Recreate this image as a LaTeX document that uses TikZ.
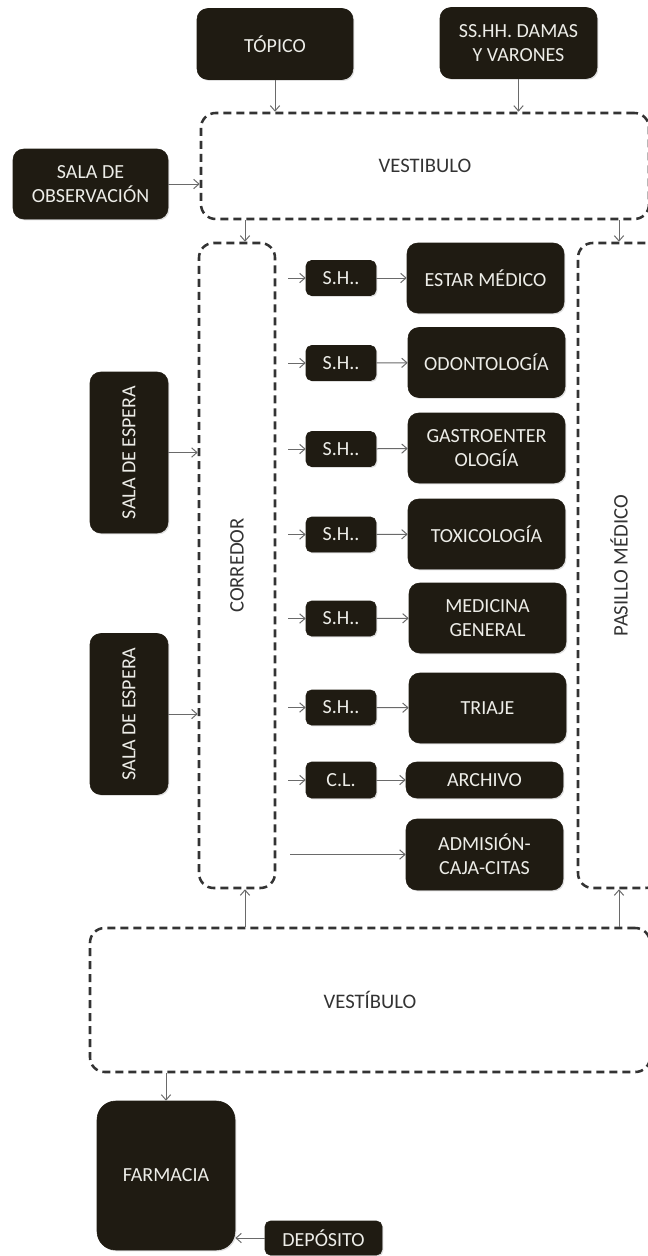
\documentclass[tikz,border=0pt]{standalone}
\usepackage{fontspec}
\setmainfont{Carlito}
\usepackage{xcolor}
\usetikzlibrary{positioning, calc, arrows, arrows.meta, shapes, shadows}
\definecolor{boxfill}{HTML}{1F1B12}
\definecolor{boxtext}{HTML}{EDEDE8}
\definecolor{dashgray}{HTML}{333333}
\definecolor{arrowgray}{HTML}{6A6A6A}
\tikzset{>={Straight Barb[length=4pt,width=7pt]}}
\tikzset{
  darkbox/.style={draw=boxfill, fill=boxfill, text=boxtext, rounded corners=8pt,
    align=center, inner sep=0pt, font=\fontsize{15}{18}\selectfont,
    drop shadow={shadow xshift=1pt, shadow yshift=-1pt, opacity=0.25}},
  smallbox/.style={darkbox, rounded corners=4pt, minimum width=52.5pt, minimum height=26.25pt},
  roombox/.style={darkbox, minimum width=117.75pt, minimum height=52.5pt},
  hallway/.style={draw=dashgray, dash pattern=on 6pt off 3.75pt, line width=1.9pt,
    rounded corners=11pt, text=dashgray, font=\fontsize{15.5}{18}\selectfont},
  flow/.style={->, color=arrowgray, line width=0.75pt}
}

\begin{document}
\begin{tikzpicture}[x=0.75pt, y=-0.75pt]
    \useasboundingbox (0,0) rectangle (647,1256);

    % zonas de circulacion
    \node[hallway, minimum width=336pt, minimum height=79.5pt] (vestA) at (425,166) {VESTIBULO};
    \node[hallway, minimum width=57pt, minimum height=483.75pt] (corr) at (237,565.5) {\rotatebox{90}{CORREDOR}};
    \node[hallway, minimum width=61.5pt, minimum height=483.75pt] (pasillo) at (619,565.5) {\rotatebox{90}{PASILLO MÉDICO}};
    \node[hallway, minimum width=420pt, minimum height=108pt] (vestB) at (370,1000) {VESTÍBULO};

    % ambientes superiores
    \node[darkbox, minimum width=117pt, minimum height=53.25pt] (topico) at (275,44) {TÓPICO};
    \node[darkbox, minimum width=117.75pt, minimum height=53.25pt] (sshh) at (518.5,43) {SS.HH. DAMAS\\Y VARONES};
    \node[darkbox, minimum width=116.25pt, minimum height=52.5pt] (obs) at (90.5,184) {SALA DE\\OBSERVACIÓN};

    \node[darkbox, minimum width=58.5pt, minimum height=120.75pt] (espera1) at (129,452.5) {\rotatebox{90}{SALA DE ESPERA}};
    \node[darkbox, minimum width=58.5pt, minimum height=120.75pt] (espera2) at (129,714) {\rotatebox{90}{SALA DE ESPERA}};

    % consultorios
    \node[smallbox] (sh1) at (341,278) {S.H..};
    \node[roombox] (estar) at (485.5,278) {ESTAR MÉDICO};
    \node[smallbox] (sh2) at (341,363) {S.H..};
    \node[roombox] (odonto) at (486.5,362.5) {ODONTOLOGÍA};
    \node[smallbox] (sh3) at (341,449) {S.H..};
    \node[roombox] (gastro) at (486.5,448) {GASTROENTER\\OLOGÍA};
    \node[smallbox] (sh4) at (341,534.5) {S.H..};
    \node[roombox] (toxico) at (486.5,534) {TOXICOLOGÍA};
    \node[smallbox] (sh5) at (341,618.5) {S.H..};
    \node[roombox] (medgen) at (487.5,618) {MEDICINA\\GENERAL};
    \node[smallbox] (sh6) at (341,707.5) {S.H..};
    \node[roombox] (triaje) at (487.5,708) {TRIAJE};
    \node[smallbox, minimum height=27pt] (cl) at (341,780) {C.L.};
    \node[roombox, minimum height=27pt] (archivo) at (484.5,780) {ARCHIVO};
    \node[roombox, minimum height=53.25pt] (admision) at (484.5,854.5) {ADMISIÓN-\\CAJA-CITAS};

    % farmacia
    \node[darkbox, rounded corners=14pt, minimum width=103.5pt, minimum height=111.75pt] (farmacia) at (166,1175.5) {FARMACIA};
    \node[darkbox, rounded corners=4pt, minimum width=87.75pt, minimum height=25.5pt] (deposito) at (323.5,1238) {DEPÓSITO};

    \coordinate (colA) at (245,0);
    \coordinate (colB) at (619,0);
    \coordinate (in1) at (288,278);
    \coordinate (in2) at (288,363);
    \coordinate (in3) at (288,449);
    \coordinate (in4) at (288,534.5);
    \coordinate (in5) at (288,618.5);
    \coordinate (in6) at (288,707.5);
    \coordinate (in7) at (288,780);
    \coordinate (in8) at (290,854.5);

    \path [flow]
    (topico) edge (topico |- vestA.north)
    (sshh) edge (sshh |- vestA.north)
    (obs) edge (obs -| vestA.west)
    (vestA.south -| colA) edge (corr.north -| colA)
    (vestA.south -| colB) edge (pasillo.north -| colB)
    (espera1) edge (espera1 -| corr.west)
    (espera2) edge (espera2 -| corr.west);

    \path [flow]
    (in1) edge (sh1) (sh1) edge (estar)
    (in2) edge (sh2) (sh2) edge (odonto)
    (in3) edge (sh3) (sh3) edge (gastro)
    (in4) edge (sh4) (sh4) edge (toxico)
    (in5) edge (sh5) (sh5) edge (medgen)
    (in6) edge (sh6) (sh6) edge (triaje)
    (in7) edge (cl) (cl) edge (archivo)
    (in8) edge (admision);

    \path [flow]
    (vestB.north -| colA) edge (corr.south -| colA)
    (vestB.north -| colB) edge (pasillo.south -| colB)
    (vestB.south -| farmacia) edge (farmacia)
    (deposito) edge (farmacia.east |- deposito);
  \end{tikzpicture}
\end{document}
